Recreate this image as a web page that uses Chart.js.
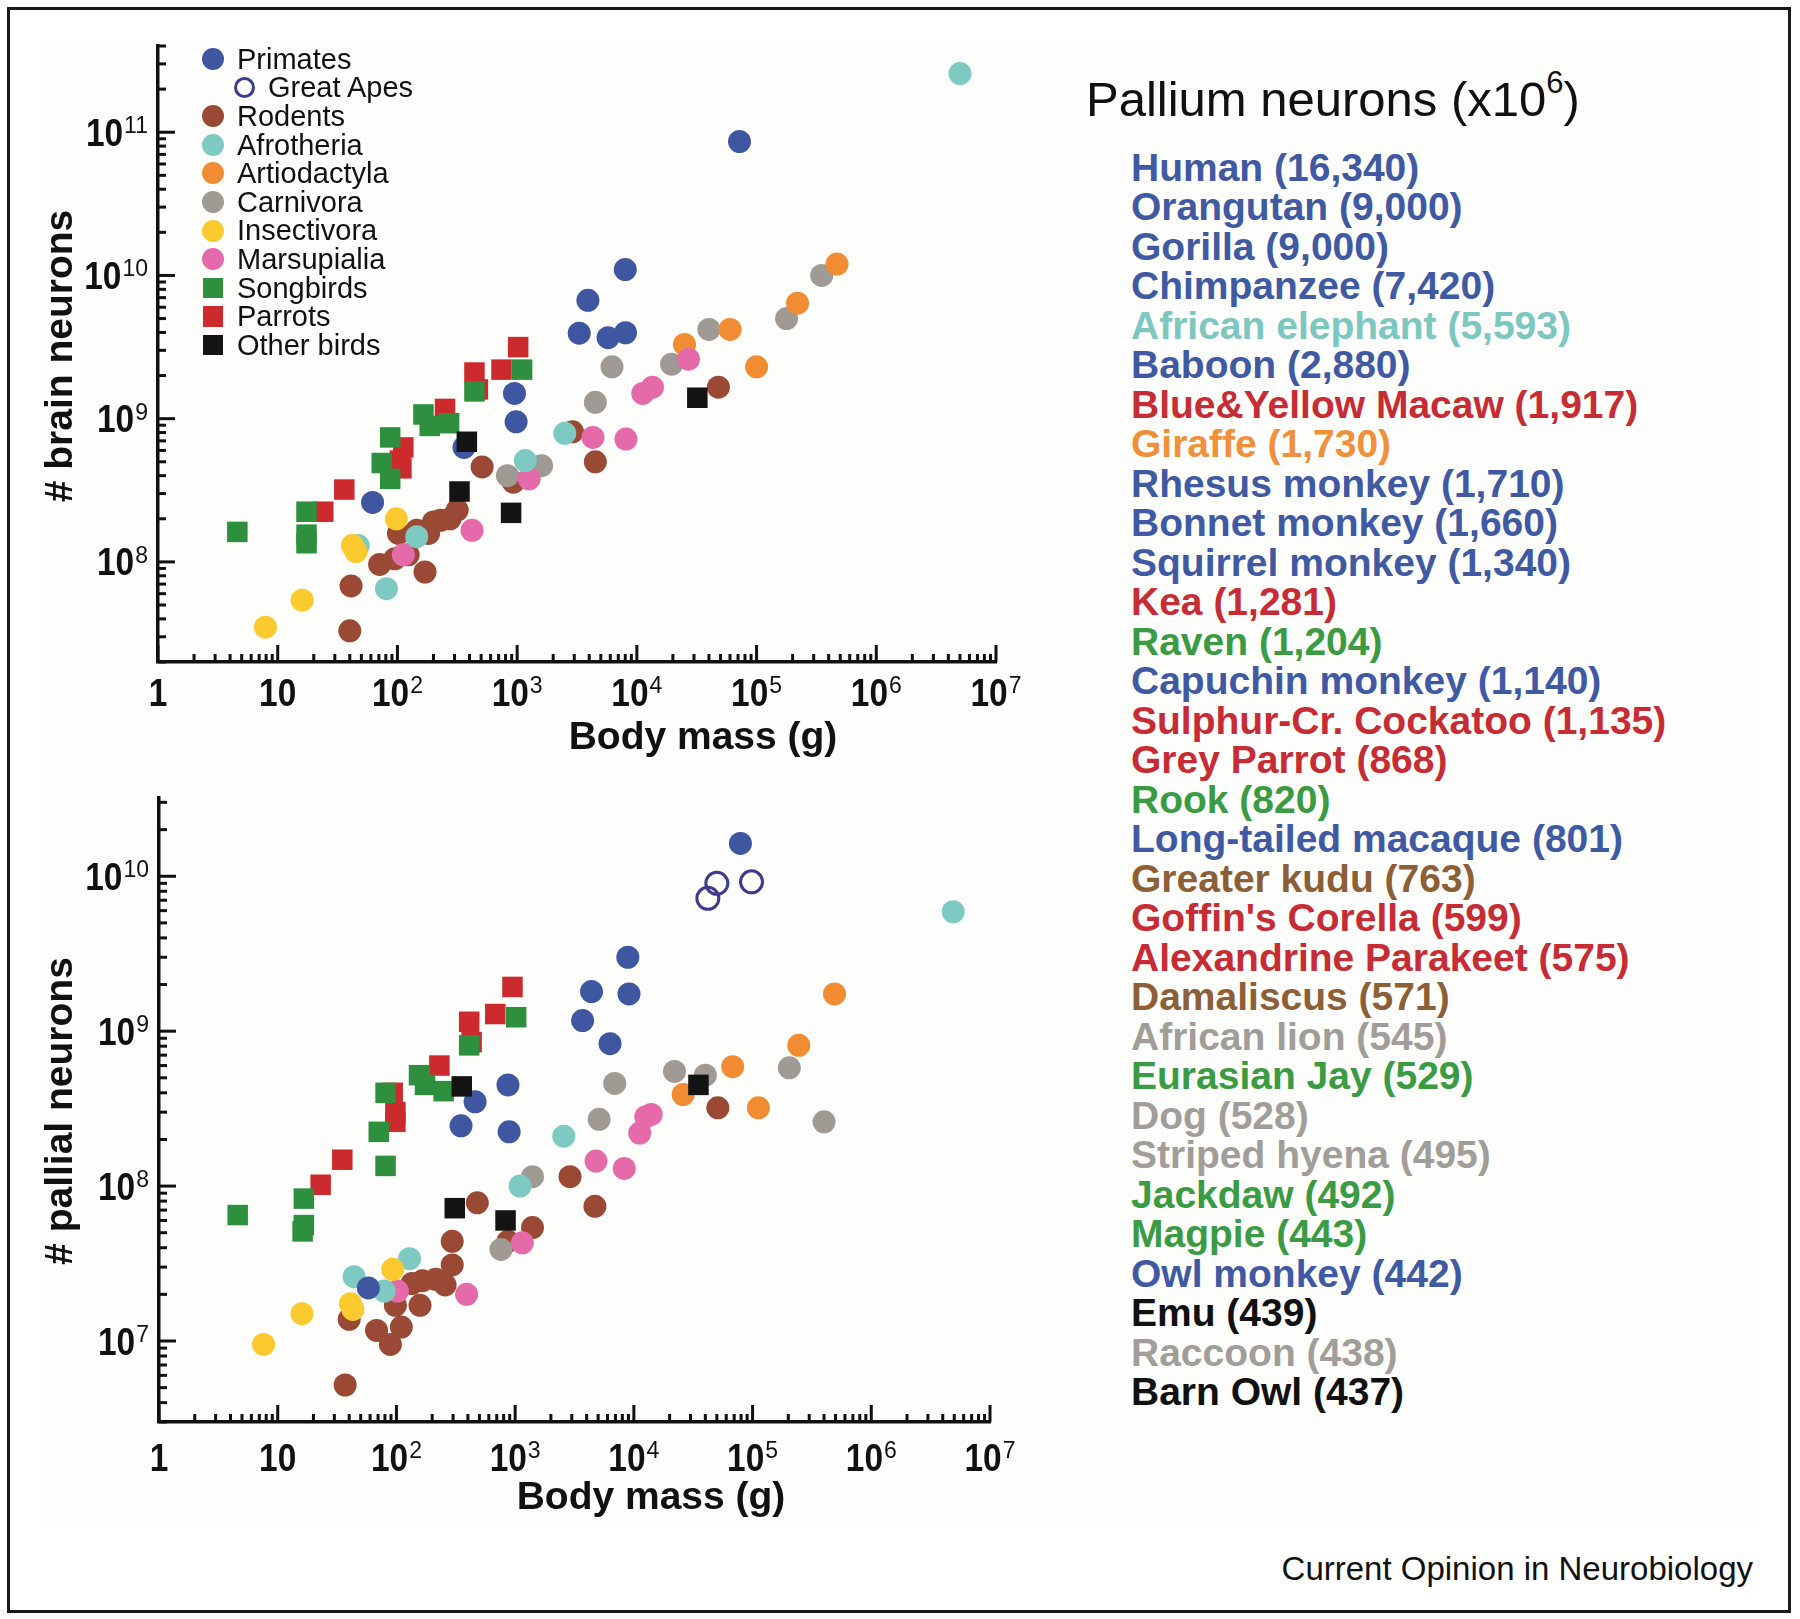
<!DOCTYPE html>
<html>
<head>
<meta charset="utf-8">
<script src="https://cdn.jsdelivr.net/npm/chart.js@4.4.1/dist/chart.umd.min.js"></script>
<style>
html,body{margin:0;padding:0;background:#fff;}
#page{position:relative;width:1800px;height:1619px;overflow:hidden;font-family:"Liberation Sans",Arial,sans-serif;background:#fff;}
#panel{position:absolute;left:40px;top:40px;width:1720px;height:1488px;background:#fdfdfb;}
#frame{position:absolute;left:7px;top:7px;width:1778px;height:1600px;border:3px solid #1a1a1a;}
canvas{position:absolute;left:0;}
#c1{top:0;}
#c2{top:780px;}
.lg{position:absolute;font-size:29px;line-height:28.6px;height:28.6px;white-space:nowrap;color:#111;}
.mk{position:absolute;box-sizing:border-box;}
#ptitle{position:absolute;left:1086px;top:75px;font-size:49px;line-height:49px;color:#111;white-space:nowrap;}
#ptitle sup{font-size:31px;vertical-align:0;position:relative;top:-23px;}
.li{position:absolute;left:1131px;font-size:39px;line-height:39.5px;font-weight:bold;white-space:nowrap;}
#credit{position:absolute;right:47px;top:1552px;font-size:33px;line-height:33px;color:#111;white-space:nowrap;}
</style>
</head>
<body>
<div id="page">
  <div id="panel"></div>
  <div id="frame"></div>
  <canvas id="c1" width="1050" height="780"></canvas>
  <canvas id="c2" width="1050" height="780"></canvas>
  <div id="legend"></div>
  <div id="ptitle">Pallium neurons (x10<sup>6</sup>)</div>
  <div id="list"></div>
  <div id="credit">Current Opinion in Neurobiology</div>
</div>
<script>
// ---------------- DATA ----------------
// [body mass (g), number of neurons]
const brainPrimates = [[72000,8.6e10],[8000,1.1e10],[3900,6.7e9],[3300,3.95e9],[5750,3.68e9],[8040,3.98e9],[950,1.5e9],[980,9.5e8],[360,6.3e8],[62,2.6e8]];
const brainRodents = [[48000,1.66e9],[2900,8.1e8],[4500,5.0e8],[510,4.6e8],[930,3.6e8],[316,2.3e8],[275,2.0e8],[229,1.95e8],[200,1.9e8],[182,1.58e8],[145,1.66e8],[102,1.58e8],[123,1.12e8],[95,1.05e8],[71,9.6e7],[170,8.5e7],[41,6.8e7],[40,3.3e7]];
const brainAfrotheria = [[5.0e6,2.57e11],[81,6.5e7],[145,1.5e8],[47,1.3e8],[1170,5.1e8],[2500,7.9e8]];
const brainArtiodactyla = [[25000,3.3e9],[60000,4.2e9],[100000,2.3e9],[220000,6.4e9],[470000,1.2e10]];
const brainCarnivora = [[6200,2.3e9],[4500,1.3e9],[19500,2.4e9],[40000,4.2e9],[178000,5.0e9],[350000,1.0e10],[830,4.0e8],[1600,4.7e8]];
const brainInsectivora = [[98,2.0e8],[42,1.3e8],[45,1.18e8],[16,5.4e7],[7.9,3.5e7]];
const brainMarsupialia = [[420,1.66e8],[1260,3.8e8],[112,1.12e8],[27000,2.6e9],[11200,1.5e9],[13500,1.66e9],[4300,7.4e8],[8100,7.2e8]];
const brainSongbirds = [[1100,2.2e9],[440,1.55e9],[165,1.07e9],[186,8.9e8],[270,9.3e8],[87,7.4e8],[74,4.9e8],[87,3.8e8],[17.4,2.24e8],[17.4,1.55e8],[17.4,1.35e8],[4.6,1.62e8]];
const brainParrots = [[1020,3.16e9],[440,2.1e9],[740,2.2e9],[250,1.17e9],[470,1.6e9],[112,6.3e8],[105,5.1e8],[108,4.5e8],[36,3.2e8],[24,2.24e8]];
const brainOtherBirds = [[380,6.9e8],[330,3.1e8],[890,2.2e8],[32000,1.4e9]];

const pallPrimates = [[79000,1.63e10],[8900,3.0e9],[4400,1.8e9],[9100,1.74e9],[3700,1.17e9],[6300,8.3e8],[870,4.5e8],[460,3.5e8],[350,2.45e8],[890,2.24e8],[58,2.2e7]];
const pallGreatApes = [[50000,9.0e9],[42000,7.2e9],[98000,9.2e9]];
const pallRodents = [[51000,3.2e8],[2900,1.15e8],[4700,7.4e7],[480,7.8e7],[1400,5.4e7],[870,4.4e7],[295,4.4e7],[295,3.1e7],[257,2.3e7],[214,2.5e7],[166,2.45e7],[135,2.35e7],[158,1.7e7],[98,1.7e7],[110,1.23e7],[68,1.17e7],[89,9.5e6],[40,1.38e7],[37,5.2e6]];
const pallAfrotheria = [[4.9e6,5.9e9],[2570,2.1e8],[1100,1.0e8],[129,3.4e7],[44,2.6e7],[79,2.1e7]];
const pallArtiodactyla = [[26000,3.9e8],[68000,5.9e8],[112000,3.2e8],[245000,8.1e8],[490000,1.74e9]];
const pallCarnivora = [[6900,4.6e8],[5100,2.7e8],[22000,5.5e8],[40000,5.2e8],[204000,5.8e8],[400000,2.6e8],[1400,1.15e8],[760,3.9e7]];
const pallMarsupialia = [[12600,2.8e8],[14000,2.9e8],[11200,2.2e8],[4800,1.45e8],[8300,1.3e8],[1150,4.3e7],[390,2.0e7],[102,2.1e7]];
const pallInsectivora = [[93,2.9e7],[41,1.74e7],[43,1.6e7],[16,1.5e7],[7.6,9.5e6]];
const pallSongbirds = [[1020,1.23e9],[410,8.1e8],[155,5.2e8],[174,4.5e8],[250,4.1e8],[81,4.0e8],[71,2.24e8],[81,1.35e8],[16.6,8.3e7],[16.6,5.6e7],[16.2,5.1e7],[4.6,6.5e7]];
const pallParrots = [[950,1.93e9],[680,1.29e9],[410,1.15e9],[430,8.5e8],[230,6.0e8],[93,4.0e8],[98,3.0e8],[98,2.6e8],[35,1.48e8],[23,1.02e8]];
const pallOtherBirds = [[355,4.4e8],[310,7.2e7],[830,6.0e7],[35000,4.5e8]];

// tick values and labels
const xTickValues = [1,10,100,1e3,1e4,1e5,1e6,1e7];
const xTickLabels = [['1',''],['10',''],['10','2'],['10','3'],['10','4'],['10','5'],['10','6'],['10','7']];
const yTopTickValues = [1e8,1e9,1e10,1e11];
const yTopTickLabels = [['10','8'],['10','9'],['10','10'],['10','11']];
const yBotTickValues = [1e7,1e8,1e9,1e10];
const yBotTickLabels = [['10','7'],['10','8'],['10','9'],['10','10']];

// legend
const legendLabels = ['Primates','Great Apes','Rodents','Afrotheria','Artiodactyla','Carnivora','Insectivora','Marsupialia','Songbirds','Parrots','Other birds'];
const legendShapes = ['circle','ring','circle','circle','circle','circle','circle','circle','square','square','square'];

// pallium list
const listNames = ['Human','Orangutan','Gorilla','Chimpanzee','African elephant','Baboon','Blue&Yellow Macaw','Giraffe','Rhesus monkey','Bonnet monkey','Squirrel monkey','Kea','Raven','Capuchin monkey','Sulphur-Cr. Cockatoo','Grey Parrot','Rook','Long-tailed macaque','Greater kudu',"Goffin's Corella",'Alexandrine Parakeet','Damaliscus','African lion','Eurasian Jay','Dog','Striped hyena','Jackdaw','Magpie','Owl monkey','Emu','Raccoon','Barn Owl'];
const listValues = ['16,340','9,000','9,000','7,420','5,593','2,880','1,917','1,730','1,710','1,660','1,340','1,281','1,204','1,140','1,135','868','820','801','763','599','575','571','545','529','528','495','492','443','442','439','438','437'];
const listGroups = ['pri','pri','pri','pri','afr','pri','par','art','pri','pri','pri','par','song','pri','par','par','song','pri','bov','par','par','bov','car','song','car','car','song','song','pri','oth','car','oth'];

// ---------------- STYLES ----------------
const COL = {
  primates:'#3f56a1', apes:'#3b3d8a', rodents:'#9a4a34', afrotheria:'#7ecac3', artiodactyla:'#f28c33',
  carnivora:'#a09a94', insectivora:'#fbca2e', marsupialia:'#e46aaa', songbirds:'#2e8f3e', parrots:'#cc2a2d', other:'#141414'
};
const legendColors = [COL.primates,COL.apes,COL.rodents,COL.afrotheria,COL.artiodactyla,COL.carnivora,COL.insectivora,COL.marsupialia,COL.songbirds,COL.parrots,COL.other];
const TXT = {pri:'#3f5aa3', afr:'#7cc7bf', par:'#c72c34', art:'#f0903a', song:'#3a9b43', bov:'#8c5f36', car:'#a19d99', oth:'#111111'};

const toXY = arr => arr.map(p => ({x:p[0], y:p[1]}));
function dotSet(label, arr, color){
  return {label, data: toXY(arr), pointStyle:'circle', pointRadius:11.5, pointBackgroundColor:color, pointBorderWidth:0, showLine:false, clip:false};
}
function ringSet(label, arr, color){
  return {label, data: toXY(arr), pointStyle:'circle', pointRadius:11, pointBackgroundColor:'rgba(0,0,0,0)', pointBorderColor:color, pointBorderWidth:3, showLine:false, clip:false};
}
function sqSet(label, arr, color){
  return {label, data: toXY(arr), pointStyle:'rect', pointRadius:14.5, pointBackgroundColor:color, pointBorderWidth:0, showLine:false, clip:false};
}

// first dataset is drawn on top
const topSets = [
  sqSet('Other birds', brainOtherBirds, COL.other),
  sqSet('Songbirds', brainSongbirds, COL.songbirds),
  sqSet('Parrots', brainParrots, COL.parrots),
  dotSet('Primates', brainPrimates, COL.primates),
  dotSet('Insectivora', brainInsectivora, COL.insectivora),
  dotSet('Afrotheria', brainAfrotheria, COL.afrotheria),
  dotSet('Marsupialia', brainMarsupialia, COL.marsupialia),
  dotSet('Artiodactyla', brainArtiodactyla, COL.artiodactyla),
  dotSet('Carnivora', brainCarnivora, COL.carnivora),
  dotSet('Rodents', brainRodents, COL.rodents)
];
const botSets = [
  sqSet('Other birds', pallOtherBirds, COL.other),
  sqSet('Songbirds', pallSongbirds, COL.songbirds),
  sqSet('Parrots', pallParrots, COL.parrots),
  ringSet('Great Apes', pallGreatApes, COL.apes),
  dotSet('Primates', pallPrimates, COL.primates),
  dotSet('Insectivora', pallInsectivora, COL.insectivora),
  dotSet('Afrotheria', pallAfrotheria, COL.afrotheria),
  dotSet('Marsupialia', pallMarsupialia, COL.marsupialia),
  dotSet('Artiodactyla', pallArtiodactyla, COL.artiodactyla),
  dotSet('Carnivora', pallCarnivora, COL.carnivora),
  dotSet('Rodents', pallRodents, COL.rodents)
];

// all log ticks (major = power of ten) inside [min,max]
function logTicks(min, max){
  const out = [];
  for (let e = Math.floor(Math.log10(min)); e <= Math.ceil(Math.log10(max)); e++){
    for (let m = 1; m <= 9; m++){
      const v = m * Math.pow(10, e);
      if (v >= min*0.9999 && v <= max*1.0001) out.push({value:v, major: m === 1});
    }
  }
  return out;
}

const FONT = '"Liberation Sans", Arial, sans-serif';
const SQ = 0.88; // horizontal condensing of tick label base
const axisDeco = {
  id:'axisDeco',
  afterDraw(chart, args, o){
    const ctx = chart.ctx, xs = chart.scales.x, ys = chart.scales.y, ca = chart.chartArea;
    ctx.save();
    ctx.strokeStyle = '#111'; ctx.lineWidth = 3; ctx.lineCap = 'butt';
    xs.ticks.forEach(t => {
      const px = xs.getPixelForValue(t.value);
      const len = t.major ? 17 : 8;
      ctx.beginPath(); ctx.moveTo(px, ca.bottom); ctx.lineTo(px, ca.bottom - len); ctx.stroke();
    });
    ys.ticks.forEach(t => {
      const py = ys.getPixelForValue(t.value);
      const len = t.major ? 17 : 8;
      ctx.beginPath(); ctx.moveTo(ca.left, py); ctx.lineTo(ca.left + len, py); ctx.stroke();
    });
    ctx.fillStyle = '#111';
    const bSize = 38, sSize = 23;
    const baseFont = 'bold ' + bSize + 'px ' + FONT, supFont = sSize + 'px ' + FONT;
    const capH = bSize * 0.716;
    function drawSq(txt, x, y, k){
      ctx.save(); ctx.translate(x, y); ctx.scale(k, 1); ctx.fillText(txt, 0, 0); ctx.restore();
    }
    function label(parts, anchorX, centerY, align){
      ctx.font = baseFont; const wb = ctx.measureText(parts[0]).width * SQ;
      ctx.font = supFont; const we = parts[1] ? ctx.measureText(parts[1]).width + 1 : 0;
      const total = wb + we;
      const x0 = align === 'center' ? anchorX - total/2 : anchorX - total;
      const base = centerY + capH/2;
      ctx.textAlign = 'left'; ctx.textBaseline = 'alphabetic';
      ctx.font = baseFont; drawSq(parts[0], x0, base, SQ);
      if (parts[1]) { ctx.font = supFont; drawSq(parts[1], x0 + wb + 1, base - capH + sSize*0.716 - 2, 1); }
    }
    o.xVals.forEach((v,i) => label(o.xLabels[i], xs.getPixelForValue(v), ca.bottom + o.xLabOff, 'center'));
    o.yVals.forEach((v,i) => label(o.yLabels[i], ca.left - 10, ys.getPixelForValue(v), 'right'));
    // axis titles
    ctx.font = 'bold 39px ' + FONT; ctx.textAlign = 'center'; ctx.textBaseline = 'middle';
    ctx.fillText(o.xTitle, o.xTitlePos[0], o.xTitlePos[1]);
    ctx.save(); ctx.translate(o.yTitlePos[0], o.yTitlePos[1]); ctx.rotate(-Math.PI/2);
    ctx.fillText(o.yTitle, 0, 0); ctx.restore();
    ctx.restore();
  }
};

function makeChart(id, sets, cfg){
  return new Chart(document.getElementById(id), {
    type:'scatter',
    data:{datasets: sets},
    plugins:[axisDeco],
    options:{
      responsive:false, animation:false, events:[],
      layout:{padding: cfg.padding},
      plugins:{legend:{display:false}, tooltip:{enabled:false}, axisDeco: cfg.deco},
      scales:{
        x:{type:'logarithmic', position:'bottom', min:cfg.xMin, max:cfg.xMax,
           ticks:{display:false}, grid:{display:false, drawTicks:false},
           border:{display:true, width:3.5, color:'#111'},
           afterFit(s){ s.height = 0; },
           afterBuildTicks(s){ s.ticks = logTicks(cfg.xMin, cfg.xMax); }},
        y:{type:'logarithmic', position:'left', min:cfg.yMin, max:cfg.yMax,
           ticks:{display:false}, grid:{display:false, drawTicks:false},
           border:{display:true, width:3.5, color:'#111'},
           afterFit(s){ s.width = 0; },
           afterBuildTicks(s){ s.ticks = logTicks(cfg.yMin, cfg.yMax); }}
      }
    }
  });
}

makeChart('c1', topSets, {
  padding:{left:158, top:46, right:54, bottom:118},
  xMin:1, xMax:1e7, yMin:2e7, yMax:4e11,
  deco:{xVals:xTickValues, xLabels:xTickLabels, yVals:yTopTickValues, yLabels:yTopTickLabels, xLabOff:30,
        xTitle:'Body mass (g)', xTitlePos:[703,738], yTitle:'# brain neurons', yTitlePos:[61,356]}
});
makeChart('c2', botSets, {
  padding:{left:159, top:18, right:60, bottom:138},
  xMin:1, xMax:1e7, yMin:3e6, yMax:3.2e10,
  deco:{xVals:xTickValues, xLabels:xTickLabels, yVals:yBotTickValues, yLabels:yBotTickLabels, xLabOff:35,
        xTitle:'Body mass (g)', xTitlePos:[651,718], yTitle:'# pallial neurons', yTitlePos:[61,331]}
});

// ---------------- LEGEND ----------------
const lg = document.getElementById('legend');
legendLabels.forEach((name, i) => {
  const cy = 59 + i * 28.6;
  const indent = legendShapes[i] === 'ring' ? 31 : 0;
  const row = document.createElement('div');
  row.className = 'lg';
  row.style.left = (237 + indent) + 'px';
  row.style.top = (cy - 14.3) + 'px';
  row.textContent = name;
  lg.appendChild(row);
  const mk = document.createElement('div');
  mk.className = 'mk';
  let size = 22;
  if (legendShapes[i] === 'circle') { mk.style.background = legendColors[i]; mk.style.borderRadius = '50%'; }
  else if (legendShapes[i] === 'ring') { size = 21; mk.style.border = '3px solid ' + legendColors[i]; mk.style.borderRadius = '50%'; }
  else { size = 20.5; mk.style.background = legendColors[i]; }
  mk.style.width = size + 'px'; mk.style.height = size + 'px';
  mk.style.left = (213 + indent - size/2) + 'px';
  mk.style.top = (cy - size/2) + 'px';
  lg.appendChild(mk);
});

// ---------------- PALLIUM LIST ----------------
const list = document.getElementById('list');
listNames.forEach((n, i) => {
  const d = document.createElement('div');
  d.className = 'li';
  d.style.top = (147.8 + i * 39.5) + 'px';
  d.style.color = TXT[listGroups[i]];
  d.textContent = n + ' (' + listValues[i] + ')';
  list.appendChild(d);
});
</script>
</body>
</html>
